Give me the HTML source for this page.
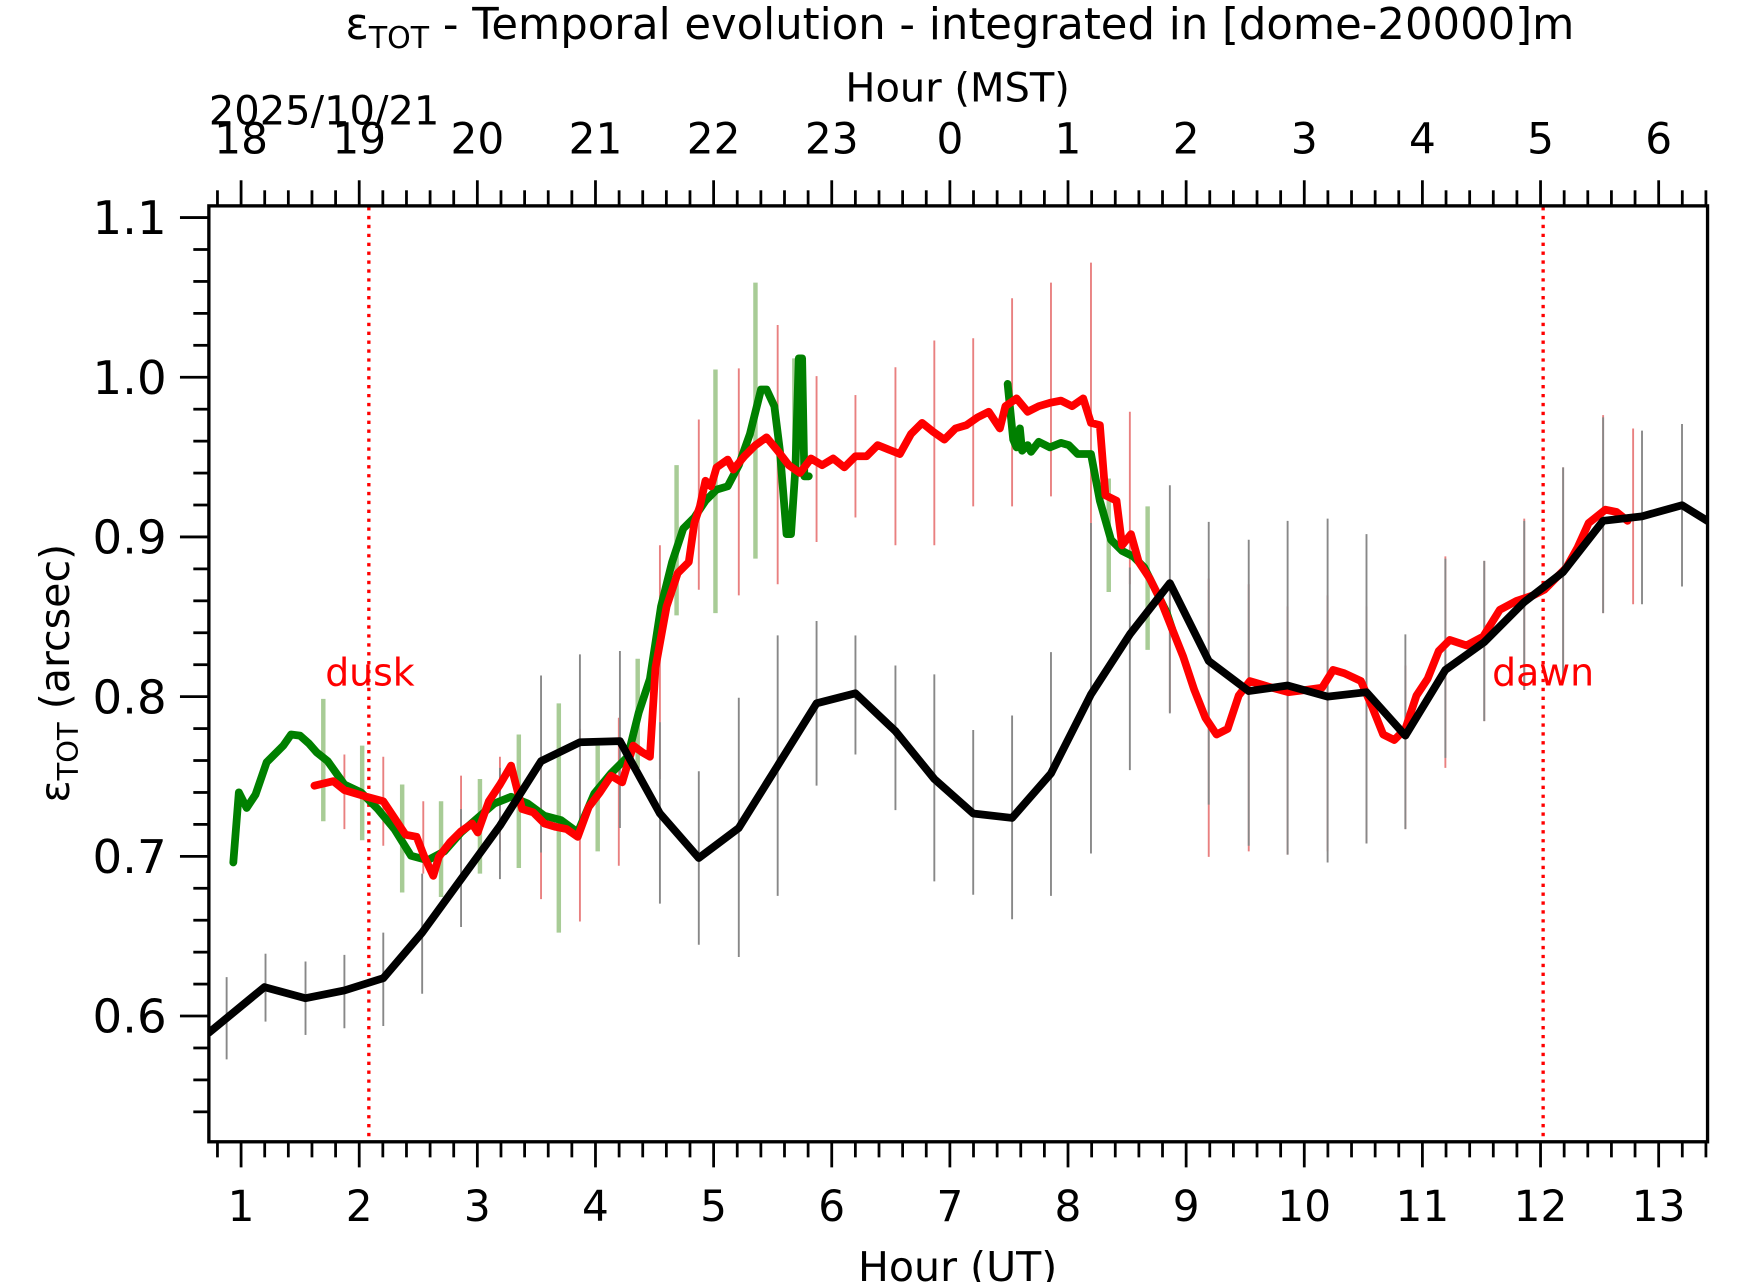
<!DOCTYPE html>
<html><head><meta charset="utf-8"><style>
html,body{margin:0;padding:0;background:#fff;}
svg{display:block;}
text{font-family:"DejaVu Sans","Liberation Sans",sans-serif;}
</style></head><body>
<svg width="1742" height="1282" viewBox="0 0 1568 1152" preserveAspectRatio="none" xmlns="http://www.w3.org/2000/svg">
<rect width="1568" height="1152" fill="#fff"/>
<text x="864" y="35" font-size="39" text-anchor="middle">ε<tspan font-size="27" dy="8">TOT</tspan><tspan dy="-8"> - Temporal evolution - integrated in [dome-20000]m</tspan></text>
<text x="862" y="91" font-size="36" text-anchor="middle">Hour (MST)</text>
<text x="188" y="112" font-size="36">2025/10/21</text>
<text x="862" y="1151" font-size="37" text-anchor="middle">Hour (UT)</text>
<text transform="translate(62,605) rotate(-90)" font-size="37" text-anchor="middle">ε<tspan font-size="26" dy="8">TOT</tspan><tspan dy="-8"> (arcsec)</tspan></text>
<g id="ticks" stroke="#000" stroke-width="2.5"></g>
<g id="labels" font-size="38"></g>
<g id="ylabels" font-size="42"></g>
<g id="gbars" stroke="#a8cc96" stroke-width="4"></g>
<g id="rbars" stroke="#e98080" stroke-width="1.7"></g>
<g id="kbars" stroke="#888" stroke-width="1.7"></g>
<line x1="332" y1="186" x2="332" y2="1025" stroke="red" stroke-width="3" stroke-dasharray="3,5"/>
<line x1="1389" y1="186" x2="1389" y2="1025" stroke="red" stroke-width="3" stroke-dasharray="3,5"/>
<text x="333" y="616" font-size="34" fill="red" text-anchor="middle">dusk</text>
<text x="1389" y="616" font-size="34" fill="red" text-anchor="middle">dawn</text>
<clipPath id="c"><rect x="188" y="185" width="1349" height="841"/></clipPath>
<g clip-path="url(#c)" fill="none" stroke-linejoin="round" stroke-linecap="round">
<polyline stroke="#008000" stroke-width="7" points="210,775 215,712 222,726 230,714 240,685 255,670 262,660 270,661 278,668 285,676 295,684 310,705 325,712 340,727 355,745 370,769 385,773 400,765 415,748 430,735 445,722 460,716 475,722 490,733 505,737 520,748 535,713 550,695 565,680 575,640 585,610 595,545 605,505 615,475 625,465 635,450 645,440 655,437 665,418 675,390 685,350 690,350 697,365 702,405 708,480 712,480 716,420 719,322 722,322 724,428 728,428"/>
<polyline stroke="#008000" stroke-width="7" points="907,345 912,395 915,402 918,385 920,405 925,400 928,406 935,397 945,402 955,398 962,400 970,408 982,408 990,450 1000,485 1010,495 1020,500 1030,510 1040,530 1050,550 1055,565"/>
<polyline stroke="#ff0000" stroke-width="7" points="283,706 300,702 310,710 330,716 345,720 355,735 365,750 375,752 382,770 390,787 395,770 405,757 415,747 425,740 430,748 440,720 450,705 460,688 470,727 480,730 490,740 500,743 510,745 520,752 530,725 540,712 550,697 560,703 570,670 578,676 585,680 590,600 600,545 610,515 620,505 625,470 630,455 635,432 640,437 645,420 655,413 660,422 670,410 680,400 690,393 700,405 710,418 720,425 730,412 740,418 750,412 760,420 770,410 780,410 790,400 800,404 810,408 820,390 830,380 840,388 850,395 860,385 870,382 880,375 890,370 900,385 905,365 915,358 925,370 935,365 945,362 955,360 965,365 975,358 982,380 990,382 995,445 1005,450 1010,490 1018,480 1025,505 1035,520 1045,540 1055,565 1065,590 1075,620 1085,645 1095,660 1105,655 1115,625 1125,612 1135,615 1145,618 1160,622 1175,620 1190,618 1200,602 1210,605 1225,612 1235,635 1245,660 1255,665 1265,655 1275,625 1285,610 1295,585 1305,575 1320,580 1335,572 1350,548 1365,540 1380,535 1390,530 1400,520 1410,510 1420,492 1430,470 1445,458 1455,460 1465,468"/>
<polyline stroke="#000" stroke-width="7" points="188,928 238,887 275,897 310,890 345,879 380,838 415,790 450,742 487,684 522,667 558,666 594,731 629,771 665,744 700,688 735,632 770,623 806,657 841,700 876,731 911,735 946,695 982,624 1017,570 1053,524 1088,594 1124,621 1159,616 1195,626 1230,622 1265,661 1301,602 1336,577 1372,541 1407,514 1443,468 1478,464 1514,454 1540,470"/>
</g>
<rect x="188" y="185" width="1349" height="841" fill="none" stroke="#000" stroke-width="3"/>
</svg>
<script>
var ns="http://www.w3.org/2000/svg";
function L(g,x1,y1,x2,y2){var l=document.createElementNS(ns,"line");l.setAttribute("x1",x1);l.setAttribute("y1",y1);l.setAttribute("x2",x2);l.setAttribute("y2",y2);document.getElementById(g).appendChild(l);}
function T(x,y,s,a,g){var t=document.createElementNS(ns,"text");t.setAttribute("x",x);t.setAttribute("y",y);t.setAttribute("text-anchor",a);t.textContent=s;document.getElementById(g||"labels").appendChild(t);}
var px=106.333;
for(var i=0;i<80;i++){var h=0.2*i;var x=217+(h-1)*px; if(x<189||x>1536)continue;var maj=Math.abs(h-Math.round(h))<1e-6;
 L("ticks",x,1026,x,maj?1049:1040);L("ticks",x,185,x,maj?162:171);
 if(maj){var H=Math.round(h);T(x,1097,""+H,"middle");var m=(H+17)%24;T(x,138,""+m,"middle");}}
for(var v=0.52;v<1.11;v+=0.02){var y=913-(v-0.6)*1435;if(y<186||y>1025)continue;var k=Math.round(v*100);var maj=(k%10==0);
 L("ticks",188,y,maj?162:174,y);if(maj)T(150,y+15,(k/100).toFixed(1),"end","ylabels");}
var kb=[[204,878,952],[239,857,918],[275,864,930],[310,858,924],[345,838,922],[380,785,893],[415,727,833],[450,690,790],[487,607,766],[522,588,742],[558,585,744],[594,649,812],[629,693,849],[665,627,860],[700,571,805],[735,558,706],[770,571,678],[806,598,728],[841,606,792],[876,656,804],[911,643,826],[946,586,805],[982,470,767],[1017,510,692],[1053,436,641],[1088,469,723],[1124,485,760],[1159,468,768],[1195,466,775],[1230,480,758],[1265,570,745],[1301,502,681],[1336,504,648],[1372,468,620],[1407,420,610],[1443,375,551],[1478,387,543],[1514,381,527]];
kb.forEach(function(b){L("kbars",b[0],b[1],b[0],b[2]);});
var rb=[[310,678,745],[345,680,760],[381,720,785],[415,697,780],[450,680,765],[487,685,808],[522,655,828],[557,645,778],[594,490,700],[629,377,530],[665,331,535],[700,292,525],[735,338,487],[770,355,465],[806,330,490],[841,306,490],[876,304,455],[911,268,455],[946,254,446],[982,236,530],[1017,370,525],[1053,520,640],[1088,520,770],[1124,525,765],[1159,545,768],[1195,535,765],[1230,545,758],[1265,598,745],[1301,500,690],[1336,504,648],[1372,466,620],[1407,420,600],[1443,373,551],[1470,385,543]];
rb.forEach(function(b){L("rbars",b[0],b[1],b[0],b[2]);});
var gb=[[291,628,738],[326,670,755],[362,705,802],[397,720,806],[432,700,785],[467,660,780],[503,632,838],[538,670,765],[574,592,690],[609,418,553],[644,332,551],[680,254,502],[715,322,437],[998,430,532],[1033,455,584]];
gb.forEach(function(b){L("gbars",b[0],b[1],b[0],b[2]);});
</script>
</body></html>
